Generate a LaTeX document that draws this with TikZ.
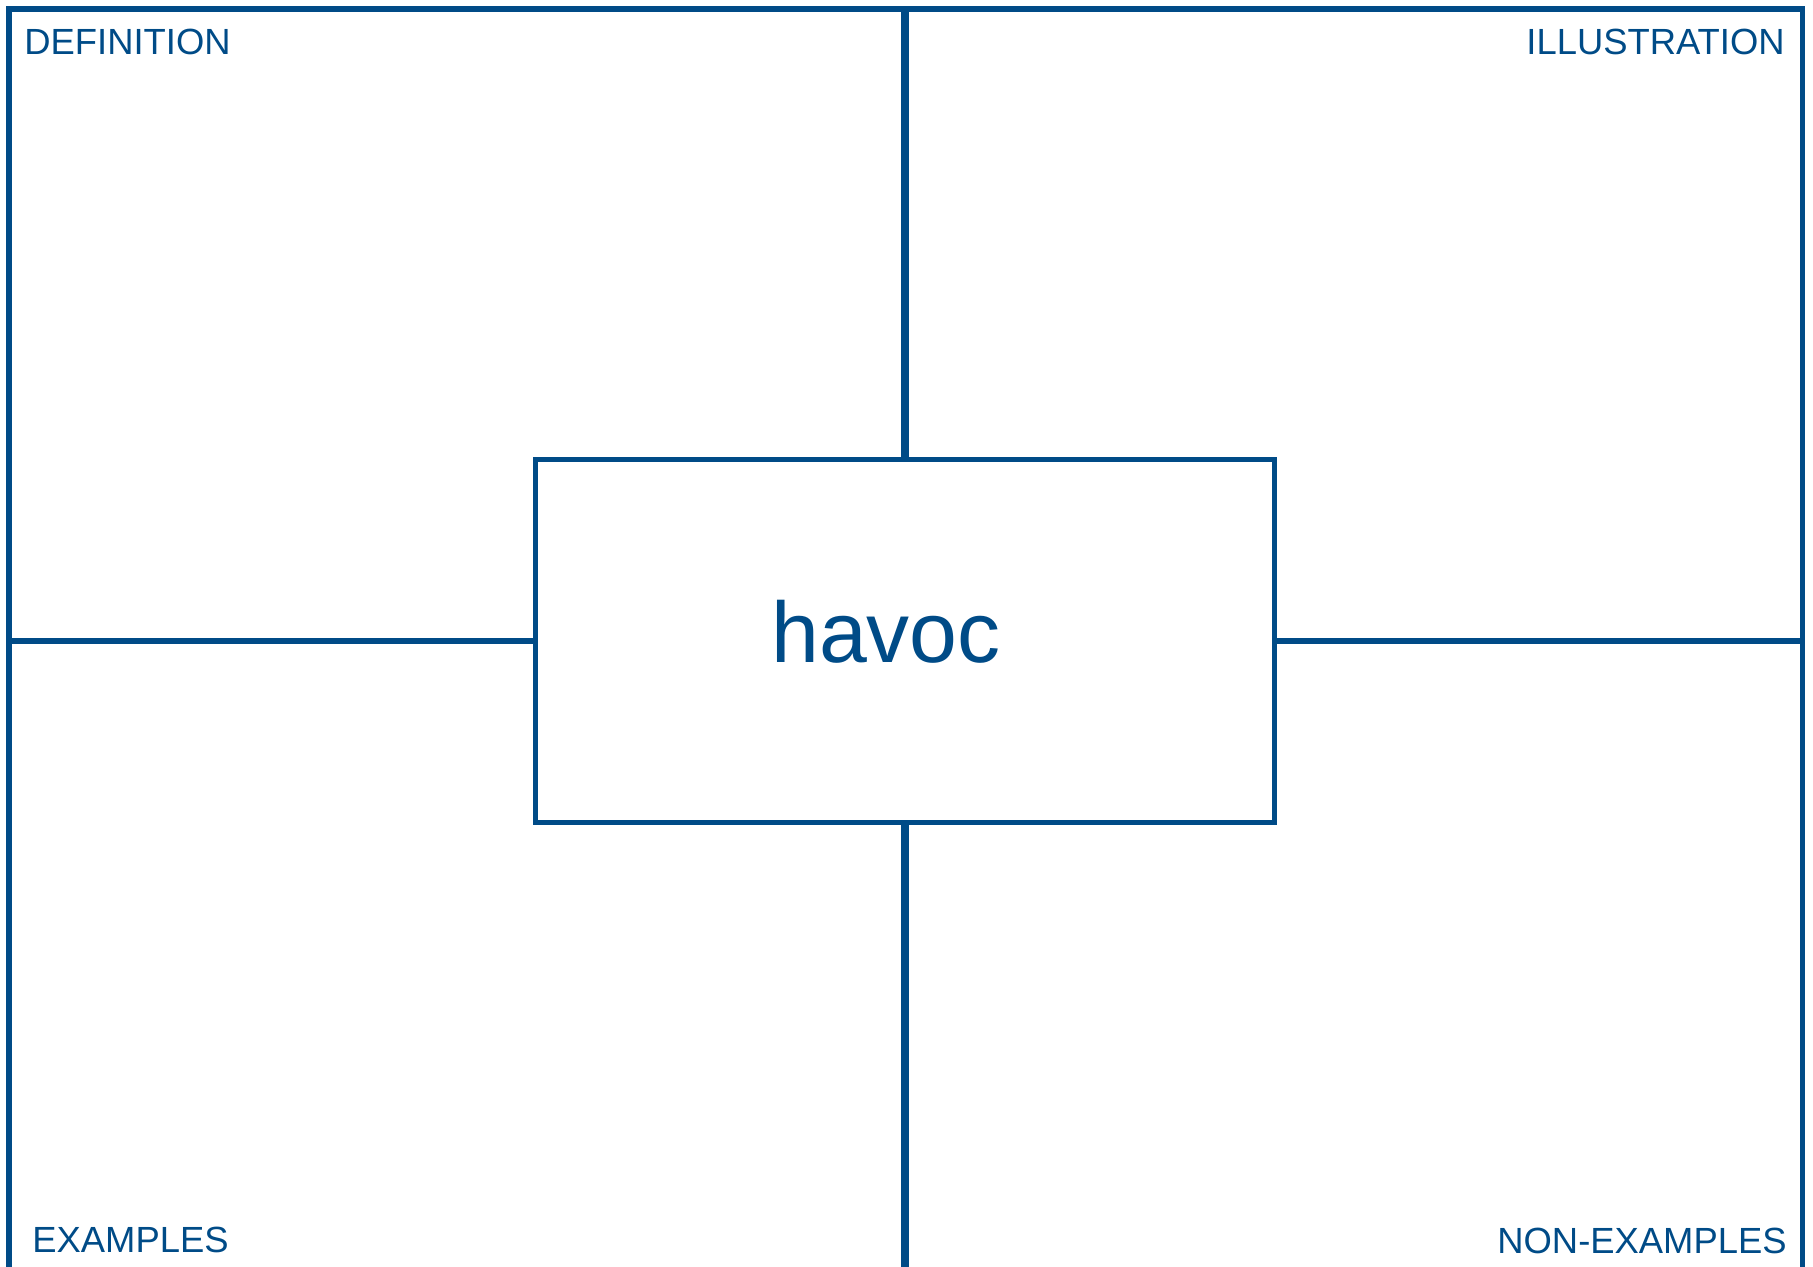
\documentclass[tikz,border=0pt]{standalone}
\usepackage{fontspec}
\setmainfont{Liberation Sans}
\usepackage{tikz}
\usetikzlibrary{positioning}
\definecolor{frameblue}{RGB}{0,75,135}

\begin{document}
\begin{tikzpicture}[
    x=0.5pt, y=-0.5pt,
    % Styles
    frame/.style={draw=frameblue, line width=2.8pt},
    vdivider/.style={draw=frameblue, line width=3.9pt},
    hdivider/.style={draw=frameblue, line width=3pt},
    wordbox/.style={rectangle, draw=frameblue, line width=2.7pt, minimum width=369.5pt, minimum height=181.5pt, inner sep=0pt},
    corner/.style={inner sep=0pt, text=frameblue, font=\fontsize{18.2pt}{20pt}\selectfont},
    bigword/.style={inner sep=0pt, text=frameblue, font=\fontsize{43pt}{48pt}\selectfont},
]
\useasboundingbox (0,0) rectangle (1813,1267);

% Outer frame corners (open at the bottom)
\coordinate (tl) at (9,9);
\coordinate (tr) at (1802.5,9);
\coordinate (bl) at (9,1267);
\coordinate (br) at (1802.5,1267);

\draw[frame] (bl) -- (tl) -- (tr) -- (br);

% Central box
\node[wordbox] (word) at (905,641) {};
\node[bigword, anchor=base] (wordtext) at (886,662) {havoc};

% Dividers
\draw[vdivider] (word.north) -- (word.north |- tl);
\draw[vdivider] (word.south) -- (word.south |- bl);
\draw[hdivider] (word.west) -- (word.west -| tl);
\draw[hdivider] (word.east) -- (word.east -| tr);

% Quadrant labels
\node[corner, anchor=base west] (definition) at (24,55) {DEFINITION};
\node[corner, anchor=base east] (illustration) at (1785,55) {ILLUSTRATION};
\node[corner, anchor=base west] (examples) at (32,1252) {EXAMPLES};
\node[corner, anchor=base east] (nonexamples) at (1787,1253) {NON-EXAMPLES};

\end{tikzpicture}
\end{document}
